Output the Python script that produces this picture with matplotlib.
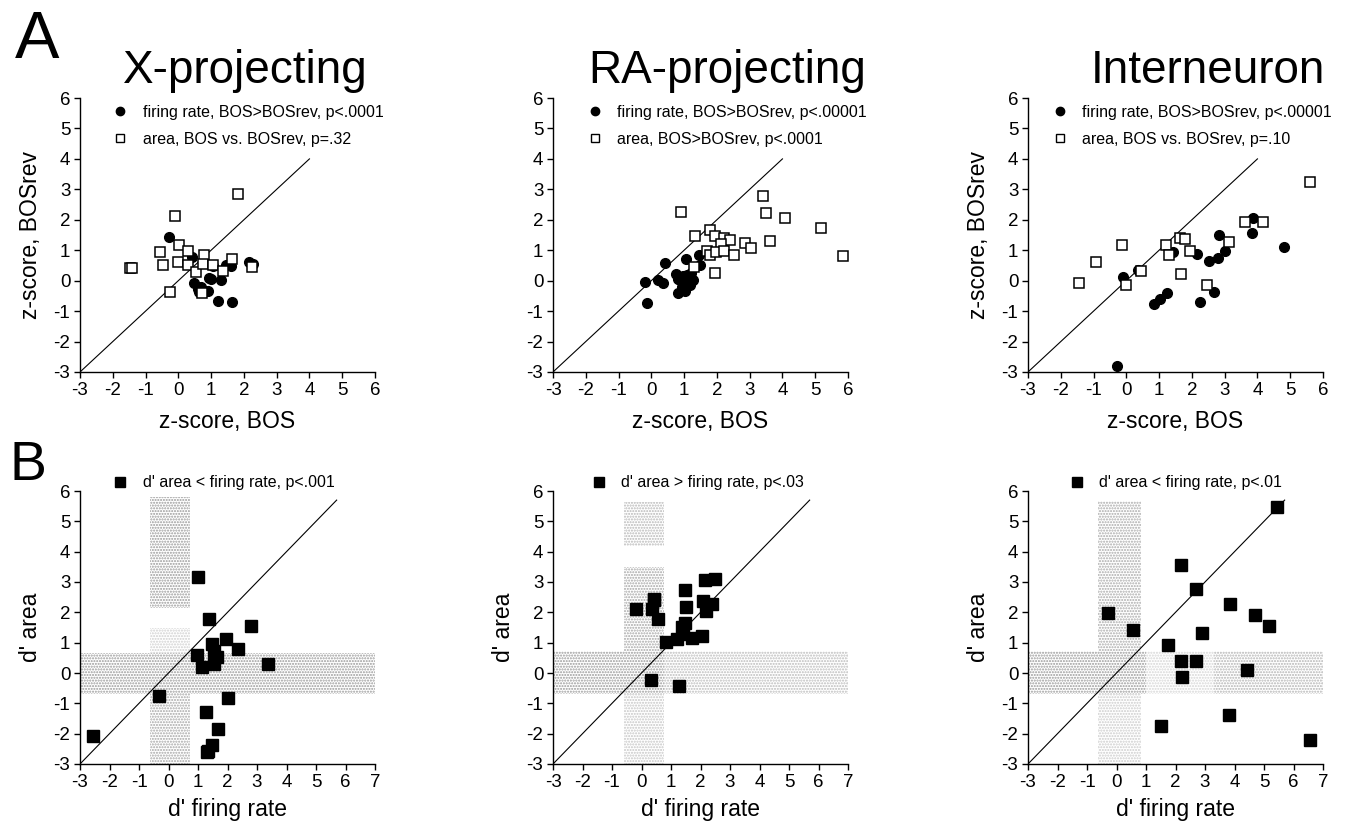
import matplotlib

matplotlib.use("Agg")
import matplotlib.pyplot as plt
from matplotlib.patches import Rectangle
from matplotlib.lines import Line2D

plt.rcParams["font.family"] = ["Liberation Sans", "DejaVu Sans"]
plt.rcParams["hatch.linewidth"] = 1.0
plt.rcParams["axes.unicode_minus"] = False

# ---- row A: z-scores (x = BOS, y = BOSrev) ----
x_fr_x = [-0.30, 0.43, 1.05, 1.45, 1.60, 2.16, 2.28, 0.49, 0.59, 0.70, 0.62, 0.77,
          0.92, 0.93, 0.99, 1.29, 1.22, 1.63]
x_fr_y = [1.43, 0.78, 0.48, 0.52, 0.48, 0.62, 0.56, -0.09, -0.27, -0.20, -0.38, -0.33,
          -0.33, 0.10, 0.04, 0.02, -0.67, -0.70]
x_ar_x = [1.82, -0.10, -0.55, 0.03, 0.28, 0.77, -1.47, -1.40, -0.48, -0.02, 0.30, 0.54,
          0.74, 1.07, 1.35, 1.63, 2.26, -0.24, 0.72]
x_ar_y = [2.86, 2.13, 0.93, 1.17, 0.98, 0.85, 0.41, 0.43, 0.51, 0.62, 0.51, 0.29,
          0.55, 0.50, 0.33, 0.72, 0.44, -0.38, -0.42]

ra_fr_x = [-0.20, -0.13, 0.20, 0.35, 0.43, 0.74, 0.81, 0.80, 1.07, 1.02, 0.88, 0.98,
           1.15, 1.22, 1.17, 1.26, 1.10, 1.44, 1.49, 2.18, 0.95, 1.10]
ra_fr_y = [-0.04, -0.72, 0.02, -0.08, 0.58, 0.21, -0.39, 0.05, 0.71, -0.34, 0.02, 0.16,
           0.07, 0.25, -0.15, 0.02, -0.05, 0.85, 0.51, 1.06, -0.20, 0.18]
ra_ar_x = [0.92, 1.34, 1.80, 1.93, 2.21, 2.41, 2.14, 1.70, 1.80, 1.98, 2.21, 2.52,
           2.87, 3.05, 1.93, 1.30, 3.41, 3.51, 3.61, 4.07, 5.19, 5.85]
ra_ar_y = [2.25, 1.48, 1.65, 1.48, 1.39, 1.35, 1.20, 0.98, 0.84, 0.93, 0.98, 0.84,
           1.24, 1.06, 0.24, 0.46, 2.79, 2.22, 1.31, 2.05, 1.72, 0.80]

in_fr_x = [-0.10, 0.36, 1.42, 0.84, 1.02, 1.24, 2.15, 2.25, 2.52, 2.79, 2.82, 2.66,
           3.02, 3.82, 3.87, 4.80, -0.30]
in_fr_y = [0.13, 0.34, 0.94, -0.78, -0.61, -0.39, 0.89, -0.69, 0.65, 0.73, 1.50, -0.37,
           0.96, 1.55, 2.05, 1.12, -2.80]
in_ar_x = [-1.44, -0.93, -0.13, -0.02, 0.46, 1.20, 1.29, 1.65, 1.80, 1.95, 1.68, 2.47,
           3.12, 3.62, 4.18, 5.60]
in_ar_y = [-0.09, 0.61, 1.16, -0.14, 0.32, 1.17, 0.84, 1.40, 1.38, 0.98, 0.21, -0.14,
           1.27, 1.94, 1.94, 3.23]

# ---- row B: d' (x = firing rate, y = area) ----
x_d_fr = [0.99, 1.37, 2.79, 1.94, 2.37, 1.46, 1.55, 1.63, 1.54, 0.97, 1.12, 3.36,
          -0.32, 2.03, 1.26, 1.69, 1.49, 1.35, 1.29, -2.55]
x_d_ar = [3.15, 1.78, 1.54, 1.12, 0.79, 0.96, 0.71, 0.53, 0.30, 0.58, 0.20, 0.30,
          -0.77, -0.82, -1.30, -1.85, -2.36, -2.58, -2.60, -2.09]
ra_d_fr = [-0.19, 0.36, 0.41, 0.43, 0.55, 0.33, 0.83, 1.20, 1.41, 1.37, 1.49, 1.46,
           1.51, 1.71, 2.05, 2.07, 2.14, 2.20, 2.40, 2.50, 1.26]
ra_d_ar = [2.12, 2.10, 2.40, 2.45, 1.77, -0.22, 1.02, 1.13, 1.28, 1.52, 1.65, 2.73,
           2.18, 1.17, 1.21, 2.37, 3.06, 2.04, 2.27, 3.11, -0.43]
in_d_fr = [-0.30, 0.57, 1.74, 2.19, 2.22, 2.71, 2.20, 2.71, 2.90, 3.85, 4.70, 5.18,
           4.42, 3.83, 1.52, 5.43, 6.55]
in_d_ar = [1.98, 1.43, 0.91, 0.38, -0.12, 0.38, 3.55, 2.78, 1.32, 2.26, 1.90, 1.54,
           0.11, -1.38, -1.76, 5.47, -2.21]

titles = ["X-projecting", "RA-projecting", "Interneuron"]
top_legend = [
    ["firing rate, BOS>BOSrev, p<.0001", "area, BOS vs. BOSrev, p=.32"],
    ["firing rate, BOS>BOSrev, p<.00001", "area, BOS>BOSrev, p<.0001"],
    ["firing rate, BOS>BOSrev, p<.00001", "area, BOS vs. BOSrev, p=.10"],
]
bottom_legend = ["d' area < firing rate, p<.001", "d' area > firing rate, p<.03",
                 "d' area < firing rate, p<.01"]

# non-significant d' zones: (x0, x1, y0, y1, shade)
bands = [
    [(-3.0, 7.0, -0.69, 0.66, "#9a9a9a"), (-0.63, 0.73, 2.15, 5.8, "#9a9a9a"),
     (-0.63, 0.73, 0.66, 1.5, "#d0d0d0"), (-0.63, 0.73, -3.0, -0.69, "#a6a6a6")],
    [(-3.0, 0.75, -0.69, 0.73, "#9a9a9a"), (0.75, 7.0, -0.69, 0.73, "#bcbcbc"),
     (-0.60, 0.75, 0.73, 3.5, "#a6a6a6"), (-0.60, 0.75, 4.2, 5.65, "#b8b8b8"),
     (-0.60, 0.75, -3.0, -0.69, "#c6c6c6")],
    [(-3.0, 1.0, -0.69, 0.74, "#9a9a9a"), (1.0, 3.3, -0.69, 0.74, "#d6d6d6"),
     (3.3, 7.0, -0.69, 0.74, "#b4b4b4"), (-0.64, 0.82, 0.74, 5.66, "#aaaaaa"),
     (-0.64, 0.82, -3.0, -0.69, "#cccccc")],
]

top_pts = [(x_fr_x, x_fr_y, x_ar_x, x_ar_y), (ra_fr_x, ra_fr_y, ra_ar_x, ra_ar_y),
           (in_fr_x, in_fr_y, in_ar_x, in_ar_y)]
bot_pts = [(x_d_fr, x_d_ar), (ra_d_fr, ra_d_ar), (in_d_fr, in_d_ar)]

W, H = 1359, 825
fig = plt.figure(figsize=(W / 100, H / 100), dpi=100)

lefts = [80, 553, 1028]
top_leg_x = [0.109, 0.115, 0.081]
bot_leg_x = [0.109, 0.129, 0.139]
title_x = [123, 588, 1091]


def style(ax, xmax):
    ax.set_xlim(-3, xmax)
    ax.set_ylim(-3, 6)
    ax.set_xticks(range(-3, xmax + 1))
    ax.set_yticks(range(-3, 7))
    for s in ["top", "right"]:
        ax.spines[s].set_visible(False)
    for s in ["left", "bottom"]:
        ax.spines[s].set_linewidth(1.0)
    ax.tick_params(direction="out", length=4, width=1.0, labelsize=13.5, pad=3)
    ax.set_facecolor("none")


for i in range(3):
    # top row
    ax = fig.add_axes([lefts[i] / W, 1 - 372 / H, 295 / W, 274 / H])
    style(ax, 6)
    ax.plot([-3, 4], [-3, 4], color="black", lw=0.8)
    fx, fy, ax_, ay = top_pts[i]
    ax.plot(fx, fy, "o", ms=7, color="black", ls="none", clip_on=False, zorder=3)
    ax.plot(ax_, ay, "s", ms=7, mfc="white", mec="black", mew=1.1, ls="none",
            clip_on=False, zorder=4)
    handles = [
        Line2D([], [], marker="o", ls="none", color="black", ms=6),
        Line2D([], [], marker="s", ls="none", mfc="white", mec="black", mew=1.0, ms=6),
    ]
    ax.legend(handles, top_legend[i], loc="upper left", bbox_to_anchor=(top_leg_x[i], 0.975),
              frameon=False, fontsize=11.5, handlelength=1.0, handletextpad=0.9,
              labelspacing=0.75, borderpad=0, borderaxespad=0)
    ax.set_xlabel("z-score, BOS", fontsize=16.5, labelpad=8)
    if i != 1:
        ax.set_ylabel("z-score, BOSrev", fontsize=16.5, labelpad=8)
    fig.text(title_x[i] / W, 1 - 83 / H, titles[i], fontsize=33, ha="left", va="baseline")

    # bottom row
    bx = fig.add_axes([lefts[i] / W, 1 - 764 / H, 295 / W, 273 / H])
    style(bx, 7)
    for x0, x1, y0, y1, shade in bands[i]:
        bx.add_patch(Rectangle((x0, y0), x1 - x0, y1 - y0, facecolor="none",
                               edgecolor=shade, hatch="......", lw=0, zorder=0))
    bx.plot([-3, 5.7], [-3, 5.7], color="black", lw=0.8, zorder=2)
    dx, dy = bot_pts[i]
    bx.plot(dx, dy, "s", ms=8.5, color="black", ls="none", clip_on=False, zorder=3)
    h = [Line2D([], [], marker="s", ls="none", color="black", ms=6.5)]
    bx.legend(h, [bottom_legend[i]], loc="upper left", bbox_to_anchor=(bot_leg_x[i], 1.057),
              frameon=False, fontsize=11.5, handlelength=1.0, handletextpad=0.9,
              borderpad=0, borderaxespad=0)
    bx.set_xlabel("d' firing rate", fontsize=16.5, labelpad=5)
    bx.set_ylabel("d' area", fontsize=16.5, labelpad=8)

fig.text(15 / W, 1 - 58 / H, "A", fontsize=48, ha="left", va="baseline")
fig.text(10 / W, 1 - 480 / H, "B", fontsize=40, ha="left", va="baseline")

fig.savefig("out.png", dpi=100)
